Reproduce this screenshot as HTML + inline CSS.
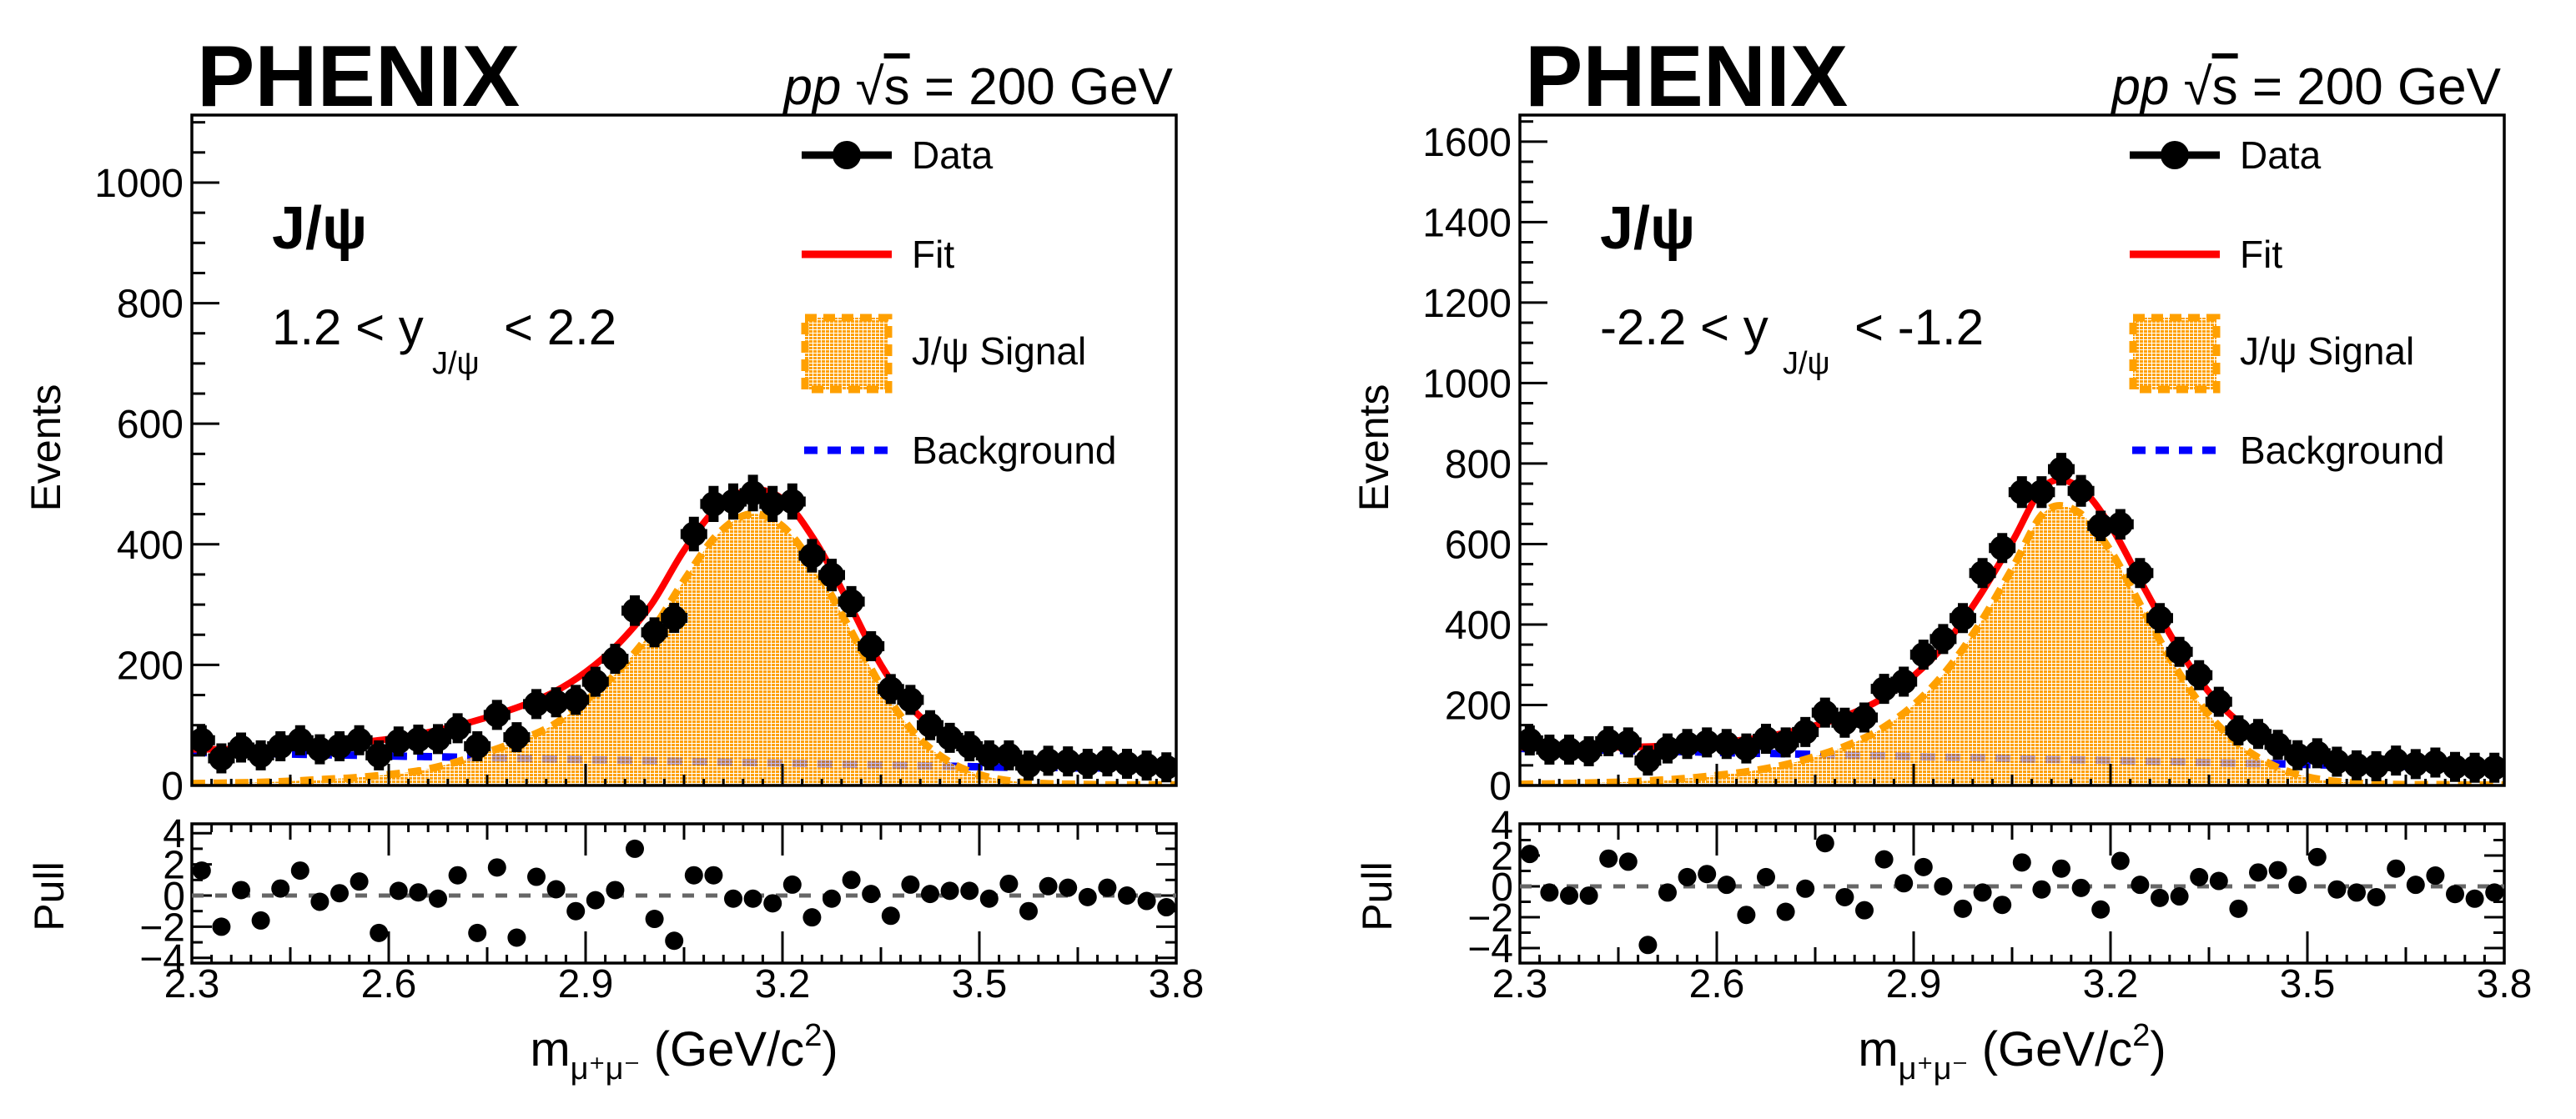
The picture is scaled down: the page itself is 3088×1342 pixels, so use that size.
<!DOCTYPE html>
<html><head><meta charset="utf-8"><style>
html,body{margin:0;padding:0;background:#fff;}
svg{display:block;font-family:"Liberation Sans",sans-serif;}
</style></head><body>
<svg id="fig" xmlns="http://www.w3.org/2000/svg" width="3088" height="1342" viewBox="0 0 3088 1342">
<defs>
<pattern id="brick" width="5" height="4" patternUnits="userSpaceOnUse">
<rect width="5" height="4" fill="#ffffff"/>
<rect width="4" height="3" fill="#ffa000"/>
</pattern>
</defs>
</svg>
<script>
// ---- data ----
const binLow = 2.3;
const binWidth = 0.03;
const xTickLabels = ["2.3","2.6","2.9","3.2","3.5","3.8"];
const leftYTickLabels = ["0","200","400","600","800","1000"];
const rightYTickLabels = ["0","200","400","600","800","1000","1200","1400","1600"];
const pullTickLabels = ["4","2","0","\u22122","\u22124"];
const leftCounts = [75,45,63,50,65,75,60,65,75,50,73,76,77,95,65,117,80,135,138,142,172,210,290,254,278,417,467,471,485,467,471,381,349,305,231,160,142,100,79,65,50,50,33,41,40,36,40,36,33,30];
const leftPulls = [1.6,-2.0,0.35,-1.6,0.45,1.6,-0.4,0.15,0.9,-2.4,0.3,0.2,-0.2,1.3,-2.4,1.8,-2.7,1.2,0.4,-1.0,-0.3,0.35,3.0,-1.5,-2.9,1.3,1.3,-0.2,-0.2,-0.5,0.7,-1.4,-0.2,1.0,0.1,-1.3,0.7,0.1,0.3,0.3,-0.2,0.75,-1.0,0.6,0.5,-0.1,0.5,0,-0.35,-0.75];
const rightCounts = [112,89,89,85,110,107,62,92,103,107,103,92,116,107,133,181,156,169,240,258,325,364,416,528,590,729,729,786,732,645,649,528,416,332,274,208,137,128,101,75,80,59,50,48,62,53,57,46,44,44];
const rightPulls = [2.1,-0.4,-0.6,-0.6,1.8,1.6,-3.8,-0.4,0.6,0.8,0.1,-1.85,0.6,-1.65,-0.15,2.8,-0.7,-1.55,1.75,0.2,1.25,0,-1.45,-0.4,-1.2,1.55,-0.2,1.15,-0.1,-1.5,1.65,0.1,-0.75,-0.65,0.6,0.35,-1.45,0.9,1.05,0.1,1.9,-0.2,-0.4,-0.7,1.15,0.1,0.7,-0.5,-0.8,-0.4];
const curveMass = [2.3,2.35,2.4,2.45,2.5,2.55,2.6,2.65,2.7,2.75,2.8,2.85,2.9,2.95,3.0,3.05,3.1,3.15,3.2,3.25,3.3,3.35,3.4,3.45,3.5,3.55,3.6,3.65,3.7,3.75,3.8];
const leftFit = [60,60,61,63,66,71,77,86,98,113,131,154,188,235,300,390,460,490,475,405,305,200,125,80,55,45,40,37,35,33,31];
const leftSignal = [3,4,5,7,10,13,18,25,38,55,75,100,140,190,255,340,415,450,430,360,265,165,88,42,18,7,3,2,1,1,1];
const leftBkg = [55,54,53,52,51,50,49,48,47,46,45,44,43,42,41,40,39,38,37,36,35,34,33,32,31,30,30,29,29,28,28];
const rightFit = [95,94,95,95,97,101,107,115,129,149,175,214,272,355,470,605,745,744,645,495,350,232,152,102,73,59,53,49,47,45,43];
const rightSignal = [3,4,6,8,12,17,25,35,50,72,100,140,200,285,400,538,680,680,583,435,291,175,97,48,21,9,4,2,2,1,1];
const rightBkg = [92,90,89,87,85,84,82,80,79,77,75,74,72,70,69,67,65,64,62,60,59,57,55,54,52,50,49,47,45,44,42];

const NS = "http://www.w3.org/2000/svg";
const svg = document.getElementById("fig");
function mk(tag, attrs, parent){
  const e = document.createElementNS(NS, tag);
  for (const k in attrs) e.setAttribute(k, attrs[k]);
  (parent||svg).appendChild(e);
  return e;
}
function smoothPath(pts){
  let d = "M"+pts[0][0].toFixed(1)+","+pts[0][1].toFixed(1);
  for (let i=0;i<pts.length-1;i++){
    const p0=pts[Math.max(0,i-1)],p1=pts[i],p2=pts[i+1],p3=pts[Math.min(pts.length-1,i+2)];
    const c1x=p1[0]+(p2[0]-p0[0])/6,c1y=p1[1]+(p2[1]-p0[1])/6;
    const c2x=p2[0]-(p3[0]-p1[0])/6,c2y=p2[1]-(p3[1]-p1[1])/6;
    d+=" C"+c1x.toFixed(1)+","+c1y.toFixed(1)+" "+c2x.toFixed(1)+","+c2y.toFixed(1)+" "+p2[0].toFixed(1)+","+p2[1].toFixed(1);
  }
  return d;
}

function panel(cfg){
  const ox = cfg.ox;
  const L = 230+ox, R = 1410+ox, T = 138, B = 942;
  const PT = 988, PB = 1155;
  const xs = m => L + (m-2.3)/1.5*(R-L);
  const ys = v => B - v/cfg.ymax*(B-T);
  const ps = p => cfg.p0 - p*cfg.pu;
  const g = mk("g", {});
  
  

  const cp = mk("clipPath", {id:"clip"+cfg.id}, g);
  mk("rect", {x:L, y:T, width:R-L, height:B-T}, cp);
  const cp2 = mk("clipPath", {id:"pclip"+cfg.id}, g);
  mk("rect", {x:L, y:PT, width:R-L, height:PB-PT}, cp2);

  const plot = mk("g", {"clip-path":"url(#clip"+cfg.id+")"}, g);
  const sPts = curveMass.map((m,i)=>[xs(m), ys(cfg.signal[i])]);
  const sd = smoothPath(sPts);
  const fill = mk("path", {d: sd+" L"+xs(3.8)+","+B+" L"+xs(2.3)+","+B+" Z", fill:"url(#brick)", stroke:"none"}, plot);
  
  
  const bPts = curveMass.map((m,i)=>[xs(m), ys(cfg.bkg[i])]);
  const bl = mk("path", {d: smoothPath(bPts), fill:"none", stroke:"#0000ff", "stroke-width":9, "stroke-dasharray":"18 12"}, plot);
  
  
  mk("path", {d: sd+" L"+xs(3.8)+","+B+" L"+xs(2.3)+","+B+" Z", fill:"url(#brick)", "fill-opacity":0.75, stroke:"none"}, plot);
  const so = mk("path", {d: sd, fill:"none", stroke:"#ffa000", "stroke-width":9, "stroke-dasharray":"16 10"}, plot);
  
  
  const fPts = curveMass.map((m,i)=>[xs(m), ys(cfg.fit[i])]);
  const fl = mk("path", {d: smoothPath(fPts), fill:"none", stroke:"#ff0000", "stroke-width":8}, plot);
  
  
  cfg.counts.forEach((c,i)=>{
    const m = binLow + binWidth*(i+0.5);
    const cx = xs(m), cy = ys(c);
    const err = Math.max(Math.sqrt(c)/cfg.ymax*(B-T)+6, 18);
    const dg = mk("g", {}, plot);
    
    
    mk("line", {x1:cx-16, x2:cx+16, y1:cy, y2:cy, stroke:"#000", "stroke-width":12}, dg);
    mk("line", {x1:cx, x2:cx, y1:cy-err, y2:cy+err, stroke:"#000", "stroke-width":12}, dg);
    mk("circle", {cx:cx, cy:cy, r:15, fill:"#000"}, dg);
  });

  const fr = mk("rect", {x:L, y:T, width:R-L, height:B-T, fill:"none", stroke:"#000", "stroke-width":3.5}, g);
  
  
  const pf = mk("rect", {x:L, y:PT, width:R-L, height:PB-PT, fill:"none", stroke:"#000", "stroke-width":3.5}, g);
  
  

  for (let k=0;k<=50;k++){
    const m = 2.3+k*0.03, x = xs(m);
    const major = k%10===0, med = k%5===0;
    const lm = major?26:(med?13:8);
    mk("line", {x1:x,x2:x,y1:B,y2:B-lm,stroke:"#000","stroke-width":3}, g);
    const lp = major?38:(med?19:10);
    mk("line", {x1:x,x2:x,y1:PT,y2:PT+lp,stroke:"#000","stroke-width":3}, g);
    mk("line", {x1:x,x2:x,y1:PB,y2:PB-lp,stroke:"#000","stroke-width":3}, g);
  }
  xTickLabels.forEach((t,k)=>{
    const tx = mk("text", {x:xs(2.3+0.3*k), y:1196, "font-size":48, "text-anchor":"middle"}, g);
    tx.textContent = t;
    
    
  });
  for (let v=0; v<=cfg.ymax; v+=50){
    const y = ys(v), major = v%200===0;
    mk("line", {x1:L,x2:L+(major?33:16),y1:y,y2:y,stroke:"#000","stroke-width":3}, g);
  }
  cfg.yLabels.forEach(t=>{
    const tx = mk("text", {x:L-10, y:ys(+t)+17, "font-size":48, "text-anchor":"end"}, g);
    tx.textContent = t;
    
    
  });
  for (let p=-5; p<=5; p+=1){
    const y = ps(p);
    if (y < PT+2 || y > PB-2) continue;
    const major = p%2===0;
    mk("line", {x1:L,x2:L+(major?24:13),y1:y,y2:y,stroke:"#000","stroke-width":3}, g);
    mk("line", {x1:R,x2:R-(major?24:13),y1:y,y2:y,stroke:"#000","stroke-width":3}, g);
  }
  pullTickLabels.forEach(t=>{
    const v = +t.replace("\u2212","-");
    const tx = mk("text", {x:L-8, y:ps(v)+17, "font-size":48, "text-anchor":"end"}, g);
    tx.textContent = t;
    
    
  });
  const pp = mk("g", {"clip-path":"url(#pclip"+cfg.id+")"}, g);
  const zl = mk("line", {x1:L, x2:R, y1:ps(0), y2:ps(0), stroke:"#666", "stroke-width":5, "stroke-dasharray":"14 14"}, pp);
  
  
  cfg.pulls.forEach((p,i)=>{
    const c = mk("circle", {cx:xs(binLow+binWidth*(i+0.5)), cy:ps(p), r:11, fill:"#000"}, pp);
    
    
  });

  const T1 = (txt, attrs, name)=>{ const t = mk("text", attrs, g); t.textContent = txt;
      return t; };
  T1("PHENIX", {x:236+ox, y:127, "font-size":104, "font-weight":"bold"}, "phenix-label");
  const en = mk("text", {x:1406+ox, y:125, "font-size":62, "text-anchor":"end", "xml:space":"preserve"}, g);
  
  
  const t1 = mk("tspan", {"font-style":"italic"}, en); t1.textContent = "pp";
  const t2 = mk("tspan", {}, en); t2.textContent = "   \u221A";
  const t3 = mk("tspan", {"text-decoration":"overline"}, en); t3.textContent = "s";
  const t4 = mk("tspan", {}, en); t4.textContent = " = 200 GeV";
  T1("J/\u03C8", {x:326+ox, y:298, "font-size":72, "font-weight":"bold"}, "particle-label");
  const ry = mk("text", {x:326+ox, y:413, "font-size":60}, g);
  
  
  ry.textContent = cfg.rapA;
  const sub = mk("text", {x:(cfg.subX)+ox, y:448, "font-size":38}, g);
  sub.textContent = "J/\u03C8";
  
  
  T1(cfg.rapB, {x:(cfg.subX+86)+ox, y:413, "font-size":60}, "rapidity-limit");

  const lg = mk("g", {}, g);
  
  
  mk("line", {x1:961+ox,x2:1069+ox,y1:186,y2:186,stroke:"#000","stroke-width":9}, lg);
  mk("circle", {cx:1015+ox, cy:186, r:17, fill:"#000"}, lg);
  const lt = (txt,y,name)=>{ const t = mk("text", {x:1093+ox, y:y, "font-size":46}, lg); t.textContent = txt;
      };
  lt("Data", 202, "legend-data");
  mk("line", {x1:961+ox,x2:1069+ox,y1:305,y2:305,stroke:"#ff0000","stroke-width":9}, lg);
  lt("Fit", 321, "legend-fit");
  mk("rect", {x:965+ox, y:381, width:100, height:86, fill:"url(#brick)", stroke:"#ffa000", "stroke-width":9, "stroke-dasharray":"14 8"}, lg);
  lt("J/\u03C8 Signal", 437, "legend-signal");
  mk("line", {x1:964+ox,x2:1069+ox,y1:540,y2:540,stroke:"#0000ff","stroke-width":9,"stroke-dasharray":"16 12"}, lg);
  lt("Background", 556, "legend-background");

  const ev = mk("text", {x:0, y:0, "font-size":50, "text-anchor":"middle", transform:"translate("+(72+ox)+",537) rotate(-90)"}, g);
  ev.textContent = "Events";
  
  
  const pl = mk("text", {x:0, y:0, "font-size":50, "text-anchor":"middle", transform:"translate("+(76+ox)+",1075) rotate(-90)"}, g);
  pl.textContent = "Pull";
  
  
  const xt = mk("text", {x:820+ox, y:1278, "font-size":58, "text-anchor":"middle"}, g);
  
  
  const a = mk("tspan", {}, xt); a.textContent = "m";
  const b = mk("tspan", {"font-size":38, dy:16}, xt); b.textContent = "\u03BC\u207A\u03BC\u207B";
  const c = mk("tspan", {dy:-16}, xt); c.textContent = " (GeV/c";
  const d = mk("tspan", {"font-size":38, dy:-24}, xt); d.textContent = "2";
  const e = mk("tspan", {dy:24}, xt); e.textContent = ")";
}

panel({id:"L", name:"left-panel", ox:0, ymax:1112, counts:leftCounts, pulls:leftPulls, fit:leftFit, signal:leftSignal, bkg:leftBkg,
  yLabels:leftYTickLabels, p0:1074, pu:18.7, rapA:"1.2 < y", rapB:"< 2.2", subX:518});
panel({id:"R", name:"right-panel", ox:1592, ymax:1666, counts:rightCounts, pulls:rightPulls, fit:rightFit, signal:rightSignal, bkg:rightBkg,
  yLabels:rightYTickLabels, p0:1063, pu:18.5, rapA:"-2.2 < y", rapB:"< -1.2", subX:545});
</script>
</body></html>
